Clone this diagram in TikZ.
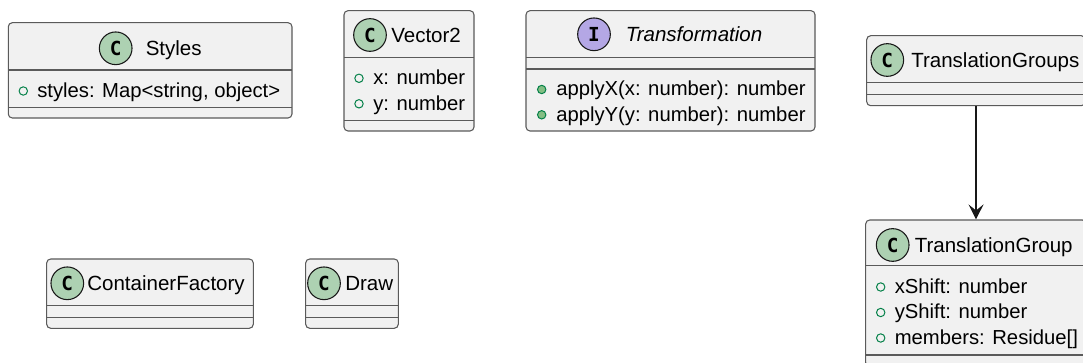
\documentclass[tikz,border=0pt]{standalone}
\usepackage{fontspec}
\setmainfont{Liberation Sans}
\newfontfamily\iconfont{DejaVu Sans Mono}
\usetikzlibrary{arrows.meta,fit}

\definecolor{boxfill}{HTML}{F1F1F1}
\definecolor{boxline}{HTML}{5A5A5A}
\definecolor{iconline}{HTML}{181818}
\definecolor{classicon}{HTML}{ADD1B2}
\definecolor{ifaceicon}{HTML}{B4A7E5}
\definecolor{fieldmark}{HTML}{038048}
\definecolor{methodfill}{HTML}{84BE84}

\tikzset{
  umlbox/.style={draw=boxline, fill=boxfill, line width=0.8pt,
    rounded corners=3pt, inner sep=0pt},
  sepline/.style={draw=boxline, line width=0.8pt},
  iconbase/.style={circle, draw=iconline, line width=0.8pt, minimum size=24.5pt,
    inner sep=0pt, font=\iconfont\bfseries\fontsize{14.5}{14.5}\selectfont},
  cicon/.style={iconbase, fill=classicon},
  iicon/.style={iconbase, fill=ifaceicon},
  hdr/.style={anchor=base west, inner sep=0pt, font=\fontsize{15.4}{18}\selectfont},
  ihdr/.style={hdr, font=\fontsize{15.4}{18}\selectfont\itshape},
  member/.style={anchor=base west, inner sep=0pt, font=\fontsize{15.2}{18}\selectfont},
  field/.style={circle, draw=fieldmark, line width=0.75pt, minimum size=6.3pt, inner sep=0pt},
  method/.style={field, fill=methodfill},
  assoc/.style={draw=iconline, line width=0.9pt,
    -{Stealth[length=11.25pt, width=11.25pt, inset=4.5pt]}},
}

% class box: name, top-left x/y, bottom-right x/y, two separator heights
\newcommand\umlbox[7]{%
  \coordinate (#1-nw) at (#2,#3);
  \coordinate (#1-se) at (#4,#5);
  \node[umlbox, fit=(#1-nw)(#1-se)] (#1) {};
  \draw[sepline] (#2,#6) -- (#4,#6);
  \draw[sepline] (#2,#7) -- (#4,#7);
}

\begin{document}
\begin{tikzpicture}[x=0.75pt, y=-0.75pt]
\path[use as bounding box, clip] (0,0) rectangle (1083,363);
\fill[white] (0,0) rectangle (1083,363);

% Styles
\umlbox{styles}{8.3}{22.7}{292}{118}{70}{107.3}
\node[cicon] (styles-c) at (115.7,48.3) {C};
\node[hdr] (styles-t) at (145.5,55.8) {Styles};
\node[field] (styles-b1) at (23.3,91) {};
\node[member] (styles-m1) at (37,97.5) {styles: Map<string, object>};

% Vector2
\umlbox{vec}{344}{10.7}{474}{131}{57.3}{120.7}
\node[cicon] (vec-c) at (370,35) {C};
\node[hdr] (vec-t) at (391,42.5) {Vector2};
\node[field] (vec-b1) at (359,78.3) {};
\node[member] (vec-m1) at (373,84.8) {x: number};
\node[field] (vec-b2) at (359,103.8) {};
\node[member] (vec-m2) at (373,110.3) {y: number};

% Transformation
\umlbox{tf}{526}{10.7}{815}{131}{57.3}{69}
\node[iicon] (tf-c) at (594,34.3) {I};
\node[ihdr] (tf-t) at (625.5,41.8) {Transformation};
\node[method] (tf-b1) at (541.7,89.5) {};
\node[member] (tf-m1) at (556,96) {applyX(x: number): number};
\node[method] (tf-b2) at (541.7,114.8) {};
\node[member] (tf-m2) at (556,121.3) {applyY(y: number): number};

% TranslationGroups
\umlbox{tgs}{866.7}{35.7}{1085.3}{105.7}{82.3}{94.3}
\node[cicon] (tgs-c) at (887.3,60) {C};
\node[hdr] (tgs-t) at (911,67.5) {TranslationGroups};

% TranslationGroup
\umlbox{tg}{865.7}{220}{1086.3}{366.5}{265.7}{355}
\node[cicon] (tg-c) at (892.7,245) {C};
\node[hdr] (tg-t) at (914.5,252.5) {TranslationGroup};
\node[field] (tg-b1) at (880.7,287) {};
\node[member] (tg-m1) at (894.5,293.5) {xShift: number};
\node[field] (tg-b2) at (880.7,312.5) {};
\node[member] (tg-m2) at (894.5,319) {yShift: number};
\node[field] (tg-b3) at (880.7,338) {};
\node[member] (tg-m3) at (894.5,344.5) {members: Residue[]};

% ContainerFactory
\umlbox{cf}{46.7}{259}{253.3}{328.3}{305.7}{317.3}
\node[cicon] (cf-c) at (67.3,283.3) {C};
\node[hdr] (cf-t) at (87,290.8) {ContainerFactory};

% Draw
\umlbox{dr}{305.7}{259}{398.3}{328.3}{305.7}{317.3}
\node[cicon] (dr-c) at (324,283.3) {C};
\node[hdr] (dr-t) at (345,290.8) {Draw};

% association
\draw[assoc] (tgs.south) -- (tg.north);
\end{tikzpicture}
\end{document}
